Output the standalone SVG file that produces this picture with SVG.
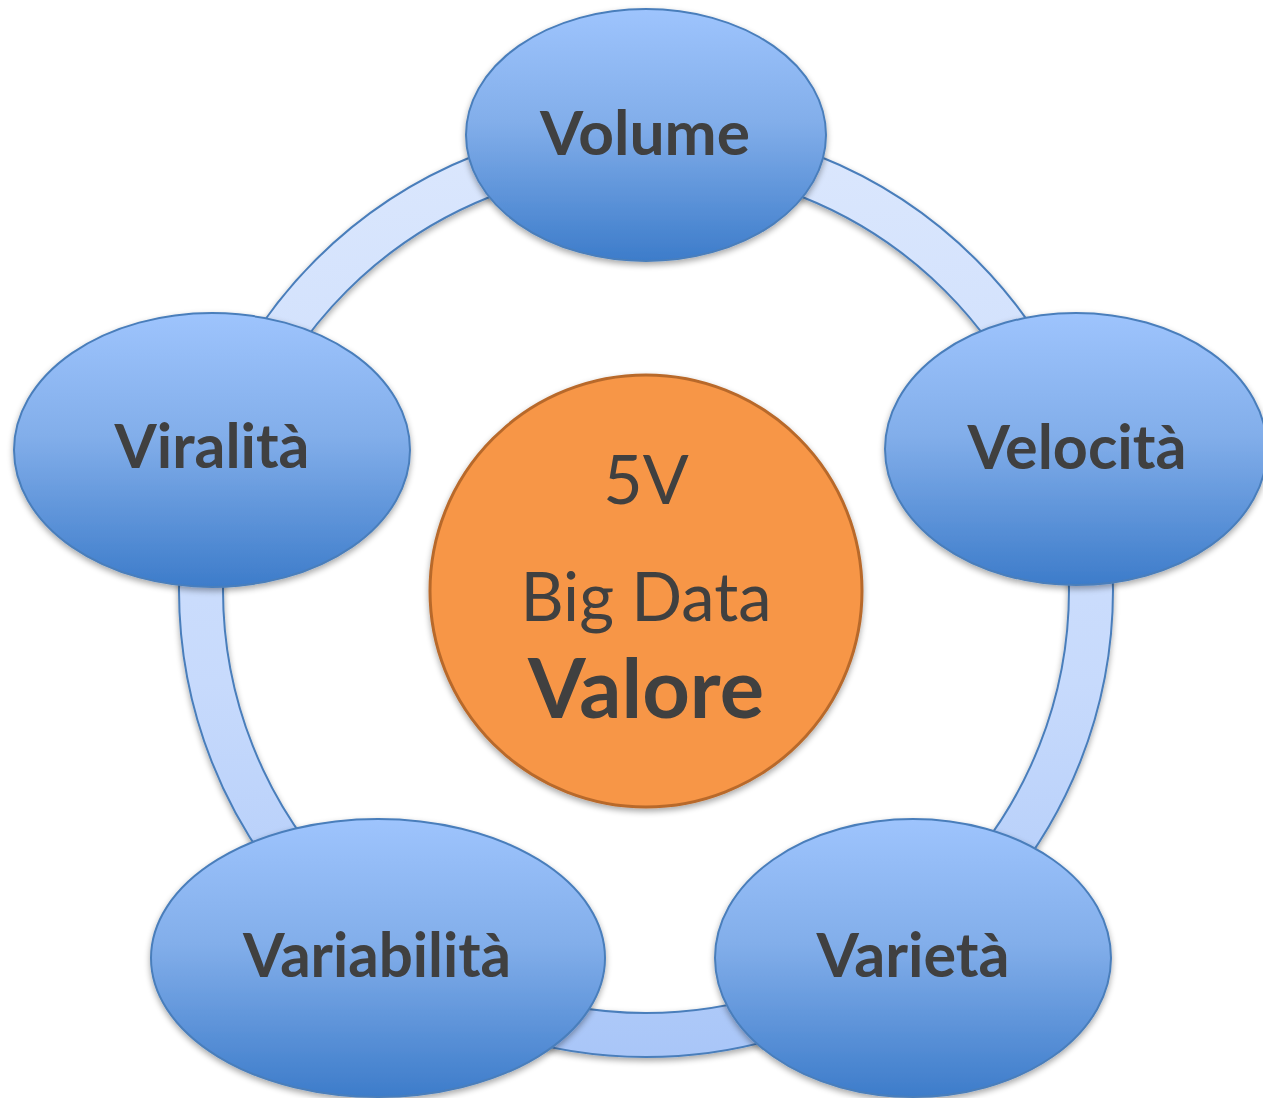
<svg xmlns="http://www.w3.org/2000/svg" width="1263" height="1098" viewBox="0 0 1263 1098">
  <style>
    .node { fill: url(#nodeFill); stroke: #4a7ebb; stroke-width: 2; filter: url(#shadow); }
    .label { font-family: Lato, "Open Sans", "Liberation Sans", sans-serif; font-weight: bold; font-size: 61px; fill: #404040; text-anchor: middle; }
    .core { font-family: Lato, "Open Sans", "Liberation Sans", sans-serif; fill: #404040; text-anchor: middle; }
  </style>
  <defs>
    <linearGradient id="nodeFill" x1="0" y1="0" x2="0" y2="1">
      <stop offset="0" stop-color="#9ec4fd"/>
      <stop offset="0.45" stop-color="#82aeea"/>
      <stop offset="1" stop-color="#3d7cca"/>
    </linearGradient>
    <linearGradient id="ringFill" x1="0" y1="0" x2="0" y2="1">
      <stop offset="0" stop-color="#dbe7fd"/>
      <stop offset="0.6" stop-color="#c7dafc"/>
      <stop offset="1" stop-color="#a9c6f8"/>
    </linearGradient>
    <filter id="shadow" x="-10%" y="-10%" width="120%" height="125%">
      <feGaussianBlur in="SourceAlpha" stdDeviation="3"/>
      <feOffset dx="0" dy="3" result="b"/>
      <feComponentTransfer><feFuncA type="linear" slope="0.35"/></feComponentTransfer>
      <feMerge><feMergeNode/><feMergeNode in="SourceGraphic"/></feMerge>
    </filter>
  </defs>
  <rect width="1263" height="1098" fill="#ffffff"/>

  <!-- cycle band linking the five nodes -->
  <g id="connectors">
    <path d="M 646 123 A 467 467 0 1 1 646 1057 A 467 467 0 1 1 646 123 Z M 646 167 A 423 423 0 1 0 646 1013 A 423 423 0 1 0 646 167 Z"
          fill="url(#ringFill)" fill-rule="evenodd" stroke="#4a7ebb" stroke-width="2" filter="url(#shadow)"/>
  </g>

  <g id="node-volume">
    <ellipse class="node" cx="646" cy="135" rx="180" ry="126"/>
    <text class="label" x="645" y="155" textLength="210" lengthAdjust="spacingAndGlyphs">Volume</text>
  </g>
  <g id="node-velocita">
    <ellipse class="node" cx="1076" cy="449" rx="191" ry="136"/>
    <text class="label" x="1077" y="469" textLength="219" lengthAdjust="spacingAndGlyphs">Velocità</text>
  </g>
  <g id="node-varieta">
    <ellipse class="node" cx="913" cy="958" rx="198" ry="139"/>
    <text class="label" x="913" y="977" textLength="193" lengthAdjust="spacingAndGlyphs">Varietà</text>
  </g>
  <g id="node-variabilita">
    <ellipse class="node" cx="378" cy="958" rx="227" ry="139"/>
    <text class="label" x="377" y="977" textLength="268" lengthAdjust="spacingAndGlyphs">Variabilità</text>
  </g>
  <g id="node-viralita">
    <ellipse class="node" cx="212" cy="450" rx="198" ry="137"/>
    <text class="label" x="212" y="468" textLength="195" lengthAdjust="spacingAndGlyphs">Viralità</text>
  </g>

  <g id="node-center">
    <circle cx="646" cy="591" r="216" fill="#f79646" stroke="#b8692c" stroke-width="3" filter="url(#shadow)"/>
    <text class="core" x="646" y="504" font-size="68">5V</text>
    <text class="core" x="646" y="621" font-size="68" textLength="251" lengthAdjust="spacingAndGlyphs">Big Data</text>
    <text class="core" x="646" y="718" font-size="82" font-weight="bold" textLength="236" lengthAdjust="spacingAndGlyphs">Valore</text>
  </g>
</svg>
